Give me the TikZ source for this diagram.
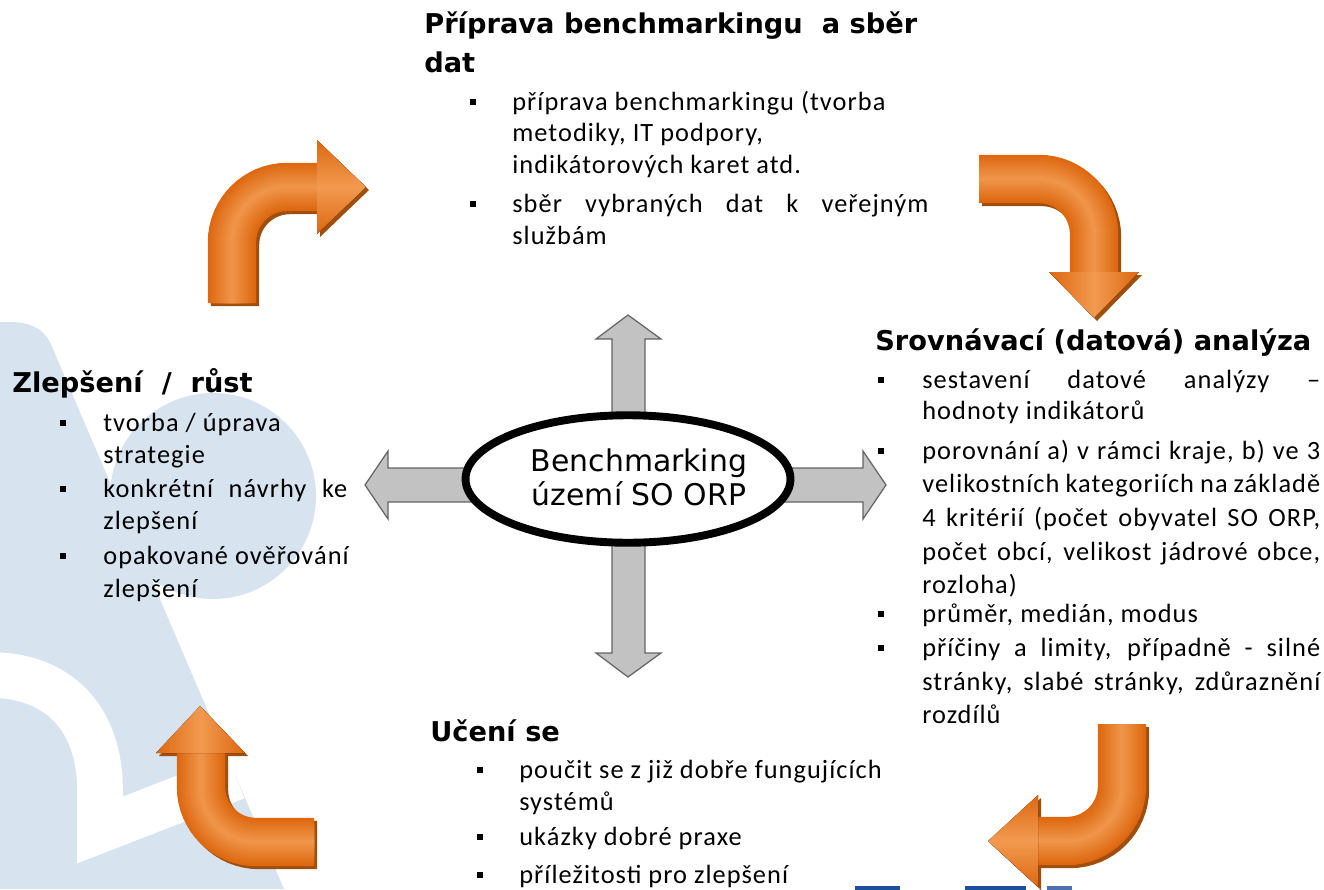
\documentclass[tikz,border=0pt]{standalone}
\usepackage{fontspec}
\setmainfont{Carlito}[LetterSpace=4]
\newfontfamily\dvs{DejaVu Sans}
\usetikzlibrary{shapes.geometric}
\definecolor{bgblue}{RGB}{215,228,240}
\definecolor{arrgray}{RGB}{194,194,194}
\definecolor{arrline}{RGB}{100,100,100}
\definecolor{oedge}{RGB}{221,104,16}
\definecolor{olight}{RGB}{242,154,80}
\definecolor{oshadow}{RGB}{160,78,14}
\definecolor{barblue}{RGB}{31,78,154}
\newcommand\jfy[2]{\makebox[#1][s]{#2}}
\newcommand\orarrow[3]{%
  \begin{scope}[xshift=0.06cm,yshift=-0.06cm]
    \draw[oshadow,line width=27.5pt,rounded corners=1.1cm] #1;
    \fill[oshadow] #2;
  \end{scope}
  \foreach \k in {0,...,11}{%
    \pgfmathsetmacro\lw{27.5*(1-\k/12)}%
    \pgfmathsetmacro\pc{\k*8}%
    \draw[olight!\pc!oedge,line width=\lw pt,rounded corners=1.1cm] #1;
  }
  \fill[#3] #2;
}
\begin{document}
\begin{tikzpicture}[x=0.02cm,y=-0.02cm,
  bul/.style={fill=black,minimum size=3.4pt,inner sep=0pt},
  body/.style={anchor=base west,inner sep=0pt,font=\fontsize{15pt}{18pt}\selectfont},
  ttl/.style={anchor=base west,inner sep=0pt,font=\dvs\bfseries\fontsize{15.5pt}{19pt}\selectfont},
  garrow/.style={fill=arrgray,draw=arrline,line width=0.7pt,line join=miter},
  hshade/.style={top color=oedge,bottom color=oedge,middle color=olight},
  vshade/.style={left color=oedge,right color=oedge,middle color=olight},
]
\useasboundingbox (0,0) rectangle (1324,889);
% background logo
\begin{scope}
  \clip (0,0) rectangle (1324,889);
  \fill[bgblue] (-5,889) -- (-5,322) -- (10,322) .. controls (30,322) and (42,328) .. (50,342) -- (284,889) -- cycle;
  \fill[bgblue] (213,496) circle (2.06cm);
  \draw[white,line width=26pt,line join=miter] (-10,675) .. controls (60,675) and (100,720) .. (100,790) -- (100,830) -- (236,777);
  \fill[barblue] (855,886) rectangle (900,890);
  \fill[barblue] (965,886) rectangle (1026,890);
  \fill[barblue!80!white] (1047,886) rectangle (1072,890);
\end{scope}
% gray arrows
\draw[garrow] (612,425) -- (612,339) -- (596,339) -- (628,315) -- (661,339) -- (645,339) -- (645,425) -- cycle;
\draw[garrow] (612,535) -- (612,653) -- (596,653) -- (628,677) -- (661,653) -- (645,653) -- (645,535) -- cycle;
\draw[garrow] (475,468) -- (388,468) -- (388,451) -- (365,485) -- (388,519) -- (388,502) -- (475,502) -- cycle;
\draw[garrow] (780,468) -- (863,468) -- (863,451) -- (886,485) -- (863,519) -- (863,502) -- (780,502) -- cycle;
% center
\node[draw=black,line width=4.5pt,fill=white,ellipse,minimum width=6.5cm,minimum height=2.55cm,inner sep=0pt] (core) at (628,479) {};
\node[font=\dvs\fontsize{17pt}{19.5pt}\selectfont,align=center,inner sep=0pt] (coretext) at (639,477) {Benchmarking\\území SO ORP};
% orange arrows
\orarrow{(232,303) -- (232,187) -- (318,187)}{(317,140) -- (366,187) -- (317,234) -- cycle}{hshade}
\orarrow{(979,179) -- (1094,179) -- (1094,273)}{(1049,272) -- (1094,318) -- (1139,272) -- cycle}{vshade}
\orarrow{(314,842) -- (201,842) -- (201,752)}{(156,753) -- (200,706) -- (245,753) -- cycle}{vshade}
\orarrow{(1122,724) -- (1122,841) -- (1037,841)}{(1038,795) -- (988,841) -- (1038,887) -- cycle}{hshade}
% top block
\node[ttl] (t1a) at (424,33) {Příprava benchmarkingu\ \ a sběr};
\node[ttl] (t1b) at (424,72) {dat};
\node[bul] (b11) at (473,102) {};
\node[body] (l11) at (512,110) {příprava benchmarkingu (tvorba};
\node[body] (l12) at (512,141) {metodiky, IT podpory,};
\node[body] (l13) at (512,173) {indikátorových karet atd.};
\node[bul] (b12) at (473,204) {};
\node[body] (l14) at (512,212) {\jfy{8.32cm}{sběr vybraných dat k veřejným}};
\node[body] (l15) at (512,244) {službám};
% right block
\node[ttl] (t2) at (875,350) {Srovnávací (datová) analýza};
\node[bul] (b21) at (881,380) {};
\node[body] (l21) at (922,388) {\jfy{7.96cm}{sestavení datové analýzy –}};
\node[body] (l22) at (922,419) {hodnoty indikátorů};
\node[bul] (b22) at (881,451) {};
\node[body] (l23) at (922,459) {\jfy{7.96cm}{porovnání a) v rámci kraje, b) ve 3}};
\node[body] (l24) at (922,492) {\jfy{7.96cm}{velikostních kategoriích na základě}};
\node[body] (l25) at (922,526) {\jfy{7.96cm}{4 kritérií (počet obyvatel SO ORP,}};
\node[body] (l26) at (922,560) {\jfy{7.96cm}{počet obcí, velikost jádrové obce,}};
\node[body] (l27) at (922,593) {rozloha)};
\node[bul] (b23) at (881,614) {};
\node[body] (l28) at (922,622) {průměr, medián, modus};
\node[bul] (b24) at (881,648) {};
\node[body] (l29) at (922,656) {\jfy{7.96cm}{příčiny a limity, případně - silné}};
\node[body] (l2a) at (922,690) {\jfy{7.96cm}{stránky, slabé stránky, zdůraznění}};
\node[body] (l2b) at (922,723) {rozdílů};
% left block
\node[ttl] (t3) at (12,392) {Zlepšení\ \ /\ \ růst};
\node[bul] (b31) at (63,423) {};
\node[body] (l31) at (103,431) {tvorba / úprava};
\node[body] (l32) at (103,463) {strategie};
\node[bul] (b32) at (63,489) {};
\node[body] (l33) at (103,497) {\jfy{4.88cm}{konkrétní návrhy ke}};
\node[body] (l34) at (103,529) {zlepšení};
\node[bul] (b33) at (63,556) {};
\node[body] (l35) at (103,564) {opakované ověřování};
\node[body] (l36) at (103,597) {zlepšení};
% bottom block
\node[ttl] (t4) at (430,741) {Učení se};
\node[bul] (b41) at (480,770) {};
\node[body] (l41) at (519,778) {poučit se z již dobře fungujících};
\node[body] (l42) at (519,810) {systémů};
\node[bul] (b42) at (480,837) {};
\node[body] (l43) at (519,845) {ukázky dobré praxe};
\node[bul] (b43) at (480,875) {};
\node[body] (l44) at (519,883) {příležitosti pro zlepšení};
\end{tikzpicture}
\end{document}
